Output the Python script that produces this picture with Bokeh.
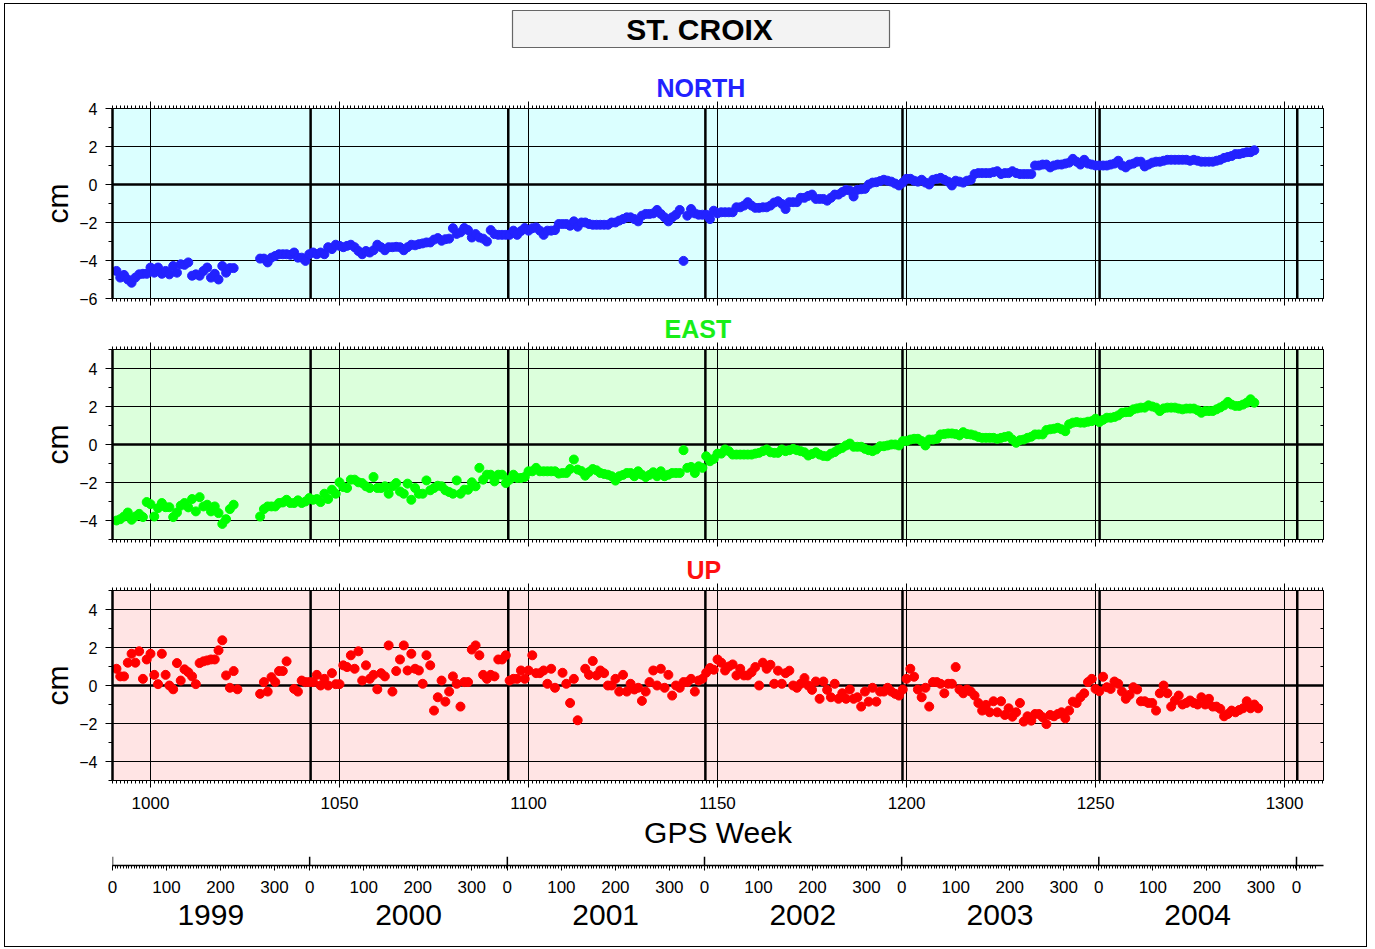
from datetime import date

from bokeh.core.properties import value
from bokeh.embed import file_html
from bokeh.layouts import column
from bokeh.models import (FixedTicker, Grid, InlineStyleSheet, LinearAxis, Range1d,
                          SingleIntervalTicker, Span)
from bokeh.plotting import figure
from bokeh.resources import INLINE

FONT = "Liberation Sans"
W = 1375

station = "ST. CROIX"
week_grid = [1000, 1050, 1100, 1150, 1200, 1250, 1300]
years = [1999, 2000, 2001, 2002, 2003, 2004]
doy_labels = [0, 100, 200, 300]

# Weekly position solutions in cm, first value is GPS week 991; None = no solution that week.
first_week = 991

north_cm = [
    -4.55, -4.9, -4.76, -5.0, -5.17, -4.9, -4.73, -4.7, -4.7, -4.37,
    -4.64, -4.37, -4.7, -4.55, -4.73, -4.29, -4.64, -4.2, -4.23, -4.1,
    -4.8, -4.73, -4.8, -4.55, -4.37, -4.9, -4.7, -5.0, -4.29, -4.64,
    -4.4, -4.4,
    None, None, None, None, None, None,
    -3.9, -3.9, -4.1, -3.85, -3.76, -3.67, -3.67, -3.67, -3.7, -3.58,
    -3.85, -3.85, -4.02, -3.67, -3.58, -3.67, -3.58, -3.67, -3.3, -3.4,
    -3.17, -3.23, -3.3, -3.23, -3.17, -3.3, -3.5, -3.67, -3.5, -3.58,
    -3.46, -3.17, -3.3, -3.46, -3.3, -3.3, -3.28, -3.3,
    -3.46, -3.3, -3.17, -3.2, -3.14, -3.1, -3.05, -3.05, -2.9, -2.82,
    -2.96, -2.88, -2.85, -2.3, -2.6, -2.52, -2.29, -2.4, -2.79, -2.61,
    -2.79, -2.85, -3.0, -2.4, -2.61, -2.65, -2.65, -2.65, -2.65, -2.43,
    -2.65, -2.45, -2.29, -2.43, -2.3, -2.26, -2.43, -2.65, -2.43, -2.43,
    -2.4, -2.08, -2.08, -2.08, -2.17, -1.94, -2.22, -2.0, -2.0, -2.08,
    -2.12, -2.12, -2.12, -2.12, -2.12, -2.0, -2.0, -1.9, -1.82, -1.73,
    -1.73, -1.82, -1.94, -1.64, -1.55, -1.55, -1.52, -1.34, -1.55, -1.73,
    -1.94, -1.73, -1.59, -1.34, -4.02, -1.64, -1.29, -1.52, -1.59, -1.59,
    -1.59, -1.82, -1.38, -1.52, -1.46, -1.46, -1.46, -1.46, -1.2, -1.2,
    -1.11, -0.93, -1.11, -1.23,
    -1.23, -1.2, -1.2, -1.11, -0.95, -0.88, -1.02, -1.29, -0.93, -0.93,
    -0.93, -0.7, -0.7, -0.6, -0.53, -0.76, -0.76, -0.76, -0.85, -0.7,
    -0.53, -0.53, -0.4, -0.28, -0.32, -0.63, -0.28, -0.25, -0.23, 0.0,
    0.1, 0.12, 0.18, 0.25, 0.2, 0.15, 0.05, -0.05, 0.1, 0.3,
    0.3, 0.2, 0.15, 0.25, 0.1, 0.0, 0.25, 0.3, 0.35, 0.25,
    0.15, -0.05, 0.2, 0.15, 0.1, 0.2, 0.25, 0.55, 0.6, 0.6,
    0.6, 0.6, 0.65, 0.7, 0.55, 0.6, 0.6, 0.7, 0.6, 0.55,
    0.55, 0.55, 0.55, 1.0, 1.0, 1.05, 1.05, 0.9, 1.0, 1.05,
    1.05, 1.1, 1.15, 1.35, 1.2, 1.05, 1.3, 1.1, 1.05, 1.0,
    1.0, 1.0, 1.0, 1.05, 1.1, 1.25, 1.0, 0.9, 1.05, 1.1,
    1.2, 1.2, 0.95, 1.05, 1.15, 1.2, 1.2, 1.25, 1.3, 1.3,
    1.3, 1.3, 1.3, 1.3, 1.25, 1.3, 1.25, 1.2, 1.2, 1.2,
    1.2, 1.25, 1.3, 1.4, 1.45, 1.5, 1.6, 1.6, 1.65, 1.7,
    1.7, 1.8,
]

east_cm = [
    -4.0, -3.93, -3.79, -3.58, -3.96, -3.79, -3.65, -3.82, -3.03, -3.14,
    -3.79, -3.35, -3.08, -3.3, -3.3, -3.82, -3.58, -3.22, -3.08, -3.31,
    -2.87, -3.52, -2.77, -3.26, -3.17, -3.52, -3.26, -3.61, -4.18, -3.93,
    -3.4, -3.17,
    None, None, None, None, None, None,
    -3.79, -3.4, -3.26, -3.26, -3.26, -3.08, -3.05, -2.91, -3.08, -3.08,
    -2.94, -3.08, -3.0, -2.82, -2.91, -2.87, -3.03, -2.59, -2.87, -2.38,
    -2.59, -1.99, -2.24, -2.29, -1.85, -1.85, -1.99, -2.03, -2.2, -2.29,
    -1.71, -2.29, -2.29, -2.2, -2.59, -2.2, -2.03, -2.47,
    -2.59, -2.06, -2.91, -2.29, -2.59, -2.59, -1.89, -2.41, -2.29, -2.17,
    -2.2, -2.41, -2.5, -2.59, -1.89, -2.59, -2.38, -2.38, -1.99, -2.2,
    -1.23, -1.85, -1.59, -1.59, -1.94, -1.59, -1.59, -2.03, -1.85, -1.59,
    -1.76, -1.76, -1.71, -1.41, -1.41, -1.23, -1.41, -1.41, -1.41, -1.41,
    -1.41, -1.53, -1.5, -1.5, -1.29, -0.79, -1.32, -1.4, -1.64, -1.45,
    -1.29, -1.36, -1.5, -1.55, -1.59, -1.67, -1.9, -1.67, -1.6, -1.5,
    -1.5, -1.67, -1.41, -1.59, -1.71, -1.6, -1.46, -1.67, -1.41, -1.67,
    -1.59, -1.5, -1.5, -1.5, -0.3, -1.23, -1.18, -1.5, -1.15, -1.23,
    -0.62, -0.88, -0.76, -0.48, -0.48, -0.26, -0.35, -0.53, -0.53, -0.53,
    -0.53, -0.53, -0.53, -0.48,
    -0.44, -0.35, -0.26, -0.41, -0.44, -0.44, -0.26, -0.35, -0.3, -0.23,
    -0.3, -0.35, -0.41, -0.58, -0.5, -0.41, -0.53, -0.6, -0.62, -0.48,
    -0.4, -0.26, -0.18, -0.05, 0.05, -0.12, -0.12, -0.12, -0.23, -0.3,
    -0.35, -0.26, -0.09, -0.09, -0.05, 0.0, 0.0, -0.05, 0.18, 0.18,
    0.26, 0.3, 0.3, 0.18, -0.05, 0.26, 0.26, 0.3, 0.53, 0.55,
    0.58, 0.58, 0.55, 0.48, 0.65, 0.55, 0.53, 0.48, 0.4, 0.35,
    0.35, 0.35, 0.35, 0.3, 0.35, 0.4, 0.44, 0.26, 0.09, 0.23,
    0.26, 0.35, 0.41, 0.53, 0.53, 0.53, 0.76, 0.8, 0.83, 0.88,
    0.8, 0.7, 1.06, 1.15, 1.18, 1.15, 1.15, 1.2, 1.23, 1.36,
    1.18, 1.3, 1.41, 1.41, 1.45, 1.53, 1.67, 1.7, 1.71, 1.85,
    1.9, 1.94, 1.94, 2.06, 2.0, 1.94, 1.76, 1.9, 1.94, 1.94,
    1.94, 1.89, 1.85, 1.89, 1.89, 1.89, 1.8, 1.67, 1.76, 1.76,
    1.76, 1.85, 1.95, 2.06, 2.24, 2.1, 2.03, 2.03, 2.1, 2.2,
    2.38, 2.2,
]

up_cm = [
    0.88, 0.48, 0.48, 1.2, 1.67, 1.2, 1.8, 0.35, 1.37, 1.67,
    0.56, 0.07, 1.67, 0.56, 0.0, -0.2, 1.18, 0.26, 0.85, 0.7,
    0.48, 0.07, 1.18, 1.27, 1.32, 1.37, 1.37, 1.85, 2.38, 0.53,
    -0.12, 0.76, -0.2,
    None, None, None, None, None,
    -0.44, 0.18, -0.32, 0.44, 0.18, 0.76, 0.76, 1.27, None, -0.18,
    -0.32, 0.26, 0.18, 0.18, 0.18, 0.56, 0.0, 0.35, 0.0, 0.65,
    0.07, 0.07, 1.06, 0.97, 1.59, 0.88, 1.8, 0.26, 1.06, 0.35,
    0.56, -0.2, 0.65, 0.48, 2.11, -0.32, 0.76, 1.37,
    2.11, 0.79, 1.67, 0.88, 0.79, 0.09, 1.59, 1.06, -1.32, -0.62,
    0.26, -0.85, -0.32, 0.48, 0.09, -1.11, 0.18, 0.18, 1.89, 2.11,
    1.59, 0.56, 0.35, 0.56, 0.48, 1.37, 1.37, 1.59, 0.26, 0.35,
    0.35, 0.79, 0.35, 0.79, 1.59, 0.65, 0.65, 0.79, 0.09, 0.88,
    -0.12, None, 0.67, 0.09, -0.92, 0.35, -1.83, None, 0.88, 0.56,
    1.29, 0.53, 0.79, 0.65, 0.0, 0.0, 0.35, -0.32, 0.56, -0.32,
    0.09, -0.21, -0.12, -0.81, -0.32, 0.18, 0.79, 0.0, 0.88, -0.12,
    0.56, -0.53, 0.0, -0.12, 0.18, 0.18, 0.35, -0.32, 0.26, 0.35,
    0.67, 0.92, 0.83, 1.37, 1.2, 0.79, 1.0, 1.11, 0.53, 0.88,
    0.53, 0.53, 0.7, 0.97, 0.0,
    1.2, 0.88, 1.09, 0.09, 0.78, 0.09, 0.65, 0.78, 0.0, -0.12,
    0.09, 0.39, 0.0, -0.23, 0.21, -0.7, 0.21, -0.23, -0.62, 0.09,
    -0.7, -0.41, -0.7, -0.21, -0.7, -0.62, -1.11, -0.32, -0.85, -0.12,
    -0.85, -0.32, -0.32, -0.12, -0.32, -0.44, -0.53, -0.21, 0.35, 0.88,
    0.46, -0.21, -0.62, -0.12, -1.11, 0.18, 0.18, 0.09, -0.41, 0.09,
    0.09, 0.97, -0.21, -0.41, -0.21, -0.32, -0.53, -0.92, -1.32, -1.02,
    -1.41, -0.83, -1.41, -0.83, -1.55, -1.2, -1.64, -1.41, -0.92, -1.9,
    -1.62, -1.85, -1.5, -1.5, -1.67, -2.03, -1.55, -1.62, -1.5, -1.41,
    -1.73, -1.32, -0.85, -0.92, -0.62, -0.41, 0.18, 0.35, -0.18, -0.3,
    0.46, -0.09, -0.18, 0.21, 0.09, -0.32, -0.7, -0.49, -0.09, -0.21,
    -0.83, -0.83, -0.92, -0.92, -1.32, -0.41, 0.0, -0.41, -1.11, -0.79,
    -0.53, -1.0, -0.92, -0.79, -0.92, -1.0, -0.62, -1.0, -0.7, -1.11,
    -1.11, -1.23, -1.62, -1.5, -1.32, -1.41, -1.29, -1.2, -0.83, -1.2,
    -1.0, -1.2,
]

GPS_EPOCH = date(1980, 1, 6)


def gps_week(d):
    # fractional GPS week, counted from the middle of each week
    return ((d - GPS_EPOCH).days - 3.5) / 7.0


def series(vals):
    wk = [first_week + i for i, v in enumerate(vals) if v is not None]
    cm = [v for v in vals if v is not None]
    return wk, cm


# all frames in the column share x from 112 to 1323 px
FRAME_L, FRAME_R = 112, 1323
X0, X1 = 989.95, 1310.3
px_per_week = (FRAME_R - FRAME_L) / (X1 - X0)
week_range = Range1d(X0, X1)
year_edges = [gps_week(date(y, 1, 1)) for y in range(years[1], years[-1] + 2)]

# left offset of each panel title (px from the frame's left edge)
title_offsets = {"NORTH": 544, "EAST": 552, "UP": 574}


def quiet_labels(axis):
    axis.major_label_text_font_size = "0px"
    axis.major_label_text_color = None
    axis.major_label_standoff = 0


def panel(name, vals, y0, y1, bg, dot, title_color, height, bottom, last=False):
    p = figure(width=W, height=height, x_range=week_range, y_range=Range1d(y0, y1),
               x_axis_location=None, y_axis_location=None,
               output_backend="svg", toolbar_location=None,
               min_border_left=FRAME_L, min_border_right=W - FRAME_R,
               min_border_top=41, min_border_bottom=bottom,
               background_fill_color=bg, border_fill_color="white",
               outline_line_color="black", outline_line_width=1,
               title=name)
    p.title.align = "left"
    p.title.offset = title_offsets[name]
    p.title.standoff = 0
    p.title.text_color = title_color
    p.title.text_font = FONT
    p.title.text_font_size = "25px"
    p.title.text_font_style = "bold"

    # grid: thin lines every 2 cm and every 50 weeks, heavy zero line and year edges
    p.add_layout(Grid(dimension=0, ticker=FixedTicker(ticks=week_grid),
                      grid_line_color="black", grid_line_width=1))
    p.add_layout(Grid(dimension=1, ticker=FixedTicker(ticks=list(range(-6, 7, 2))),
                      grid_line_color="black", grid_line_width=1))
    p.add_layout(Span(location=0, dimension="width", line_color="black",
                      line_width=2.5, level="underlay"))
    for e in year_edges:
        p.add_layout(Span(location=e, dimension="height", line_color="black",
                          line_width=2.5, level="underlay"))

    yt = SingleIntervalTicker(interval=2, num_minor_ticks=2)
    xt = SingleIntervalTicker(interval=50, num_minor_ticks=50)

    left = LinearAxis(ticker=yt, axis_label="cm", axis_line_width=2.5,
                      major_tick_out=7, major_tick_in=0, minor_tick_out=4, minor_tick_in=0,
                      major_label_standoff=8, axis_label_standoff=2,
                      major_label_text_font=FONT, major_label_text_font_size="16px",
                      major_label_text_color="black",
                      axis_label_text_font=FONT, axis_label_text_font_size="30px",
                      axis_label_text_font_style="normal", axis_label_text_color="black")
    right = LinearAxis(ticker=yt, major_tick_in=5, major_tick_out=0,
                       minor_tick_in=3, minor_tick_out=0, axis_line_width=1)
    quiet_labels(right)
    top = LinearAxis(ticker=xt, major_tick_out=7, major_tick_in=0,
                     minor_tick_out=3, minor_tick_in=0, axis_line_color=None)
    quiet_labels(top)
    bot = LinearAxis(ticker=xt, major_tick_out=7, major_tick_in=0,
                     minor_tick_out=3, minor_tick_in=0, axis_line_color=None)
    if last:
        bot.major_label_standoff = 9
        bot.major_label_text_font = FONT
        bot.major_label_text_font_size = "17px"
        bot.major_label_text_color = "black"
        bot.axis_label = "GPS Week"
        bot.axis_label_standoff = 4
        bot.axis_label_text_font = FONT
        bot.axis_label_text_font_size = "30px"
        bot.axis_label_text_font_style = "normal"
        bot.axis_label_text_color = "black"
    else:
        quiet_labels(bot)
    p.add_layout(left, "left")
    p.add_layout(right, "right")
    p.add_layout(top, "above")
    p.add_layout(bot, "below")

    wk, cm = series(vals)
    p.scatter(wk, cm, marker="circle", size=9, fill_color=dot, line_color=dot)
    return p


# header with the station name (x in page pixels)
hdr = figure(width=W, height=67, x_range=Range1d(FRAME_L, FRAME_R), y_range=Range1d(67, 0),
             min_border_left=FRAME_L, min_border_right=W - FRAME_R,
             min_border_top=0, min_border_bottom=0,
             toolbar_location=None, output_backend="svg",
             x_axis_location=None, y_axis_location=None, outline_line_color=None)
hdr.grid.visible = False
hdr.quad(left=[512], right=[889], top=[10], bottom=[47],
         fill_color="#f3f3f3", line_color="#666666", line_width=1.2)
hdr.text(x=[699], y=[29], text=[station], text_font=value(FONT), text_font_size="30px",
         text_font_style="bold", text_align="center", text_baseline="middle",
         text_color="black")

p_n = panel("NORTH", north_cm, -6, 4, "#dbffff", "#2222ff", "#2222ff", 241, 10)
p_e = panel("EAST", east_cm, -5, 5, "#dcffdc", "#00ff00", "#18ee18", 241, 10)
p_u = panel("UP", up_cm, -5, 5, "#ffe4e4", "#ff0000", "#ff1010", 306, 75, last=True)

# calendar axis: day of year and year, in days since 1999-01-01 (day 0 at the frame's left)
day0 = date(years[0], 1, 1)
starts = [(date(y, 1, 1) - day0).days for y in years + [years[-1] + 1]]
cal_px_per_day = (1294 - 110) / starts[-1]
yf = figure(width=W, height=94, x_range=Range1d(0, (FRAME_R - FRAME_L) / cal_px_per_day),
            y_range=Range1d(0, 1), min_border_left=FRAME_L, min_border_right=W - FRAME_R,
            min_border_top=1, min_border_bottom=84, toolbar_location=None,
            output_backend="svg", x_axis_location=None, y_axis_location=None,
            outline_line_color=None)
yf.grid.visible = False

major, minor, overrides = [], [], {}
for i, y in enumerate(years):
    s = starts[i]
    for d in doy_labels:
        major.append(s + d)
        overrides[s + d] = str(d)
    minor.extend(range(s, starts[i + 1], 5))
major.append(starts[-1])
overrides[starts[-1]] = "0"
minor.extend(range(starts[-1], starts[-1] + 40, 5))

doy_axis = LinearAxis(ticker=FixedTicker(ticks=major, minor_ticks=minor),
                      major_label_overrides=overrides,
                      major_tick_out=5, major_tick_in=0, minor_tick_out=3, minor_tick_in=0,
                      axis_line_width=1.5, major_label_standoff=10,
                      major_label_text_font=FONT, major_label_text_font_size="17px",
                      major_label_text_color="black")
mids = [(starts[i] + starts[i + 1]) // 2 for i in range(len(years))]
year_axis = LinearAxis(ticker=FixedTicker(ticks=mids, minor_ticks=[]),
                       major_label_overrides={m: str(y) for m, y in zip(mids, years)},
                       axis_line_color=None, major_tick_out=0, major_tick_in=0,
                       minor_tick_out=0, minor_tick_in=0, major_label_standoff=9,
                       major_label_text_font=FONT, major_label_text_font_size="30px",
                       major_label_text_color="black")
yf.add_layout(doy_axis, "below")
yf.add_layout(year_axis, "below")
yf.segment(x0=starts, y0=0, x1=starts, y1=1, line_color="black", line_width=1.5)

page_css = InlineStyleSheet(css="""
:host { position: relative; }
:host::after { content: ''; position: absolute; left: 4px; top: 3px;
  width: 1361px; height: 942px; border: 1.5px solid #000;
  pointer-events: none; z-index: 10; }
""")

layout = column(hdr, p_n, p_e, p_u, yf, spacing=0, stylesheets=[page_css])

open("out.html", "w").write(file_html(layout, INLINE))
